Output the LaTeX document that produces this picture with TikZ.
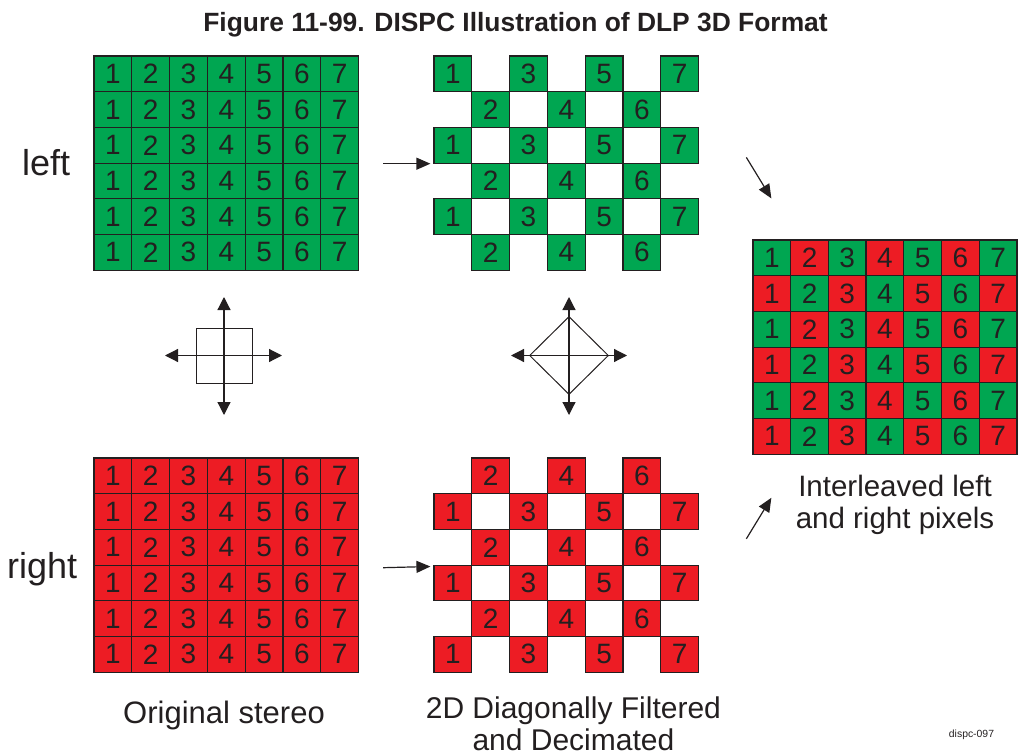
\documentclass[tikz,border=0pt]{standalone}
\usepackage{fontspec}
\setmainfont{Liberation Sans}
\usetikzlibrary{arrows.meta,calc,shapes.geometric}

\definecolor{pixgreen}{RGB}{0,166,81}
\definecolor{pixred}{RGB}{237,28,36}
\definecolor{pixline}{RGB}{35,31,32}

\tikzset{
  pix/.style={draw=pixline, line width=1.2pt, minimum width=37.8pt, minimum height=35.7pt,
    inner sep=0pt, text=pixline, font=\fontsize{28}{28}\selectfont},
  gpix/.style={pix, fill=pixgreen},
  rpix/.style={pix, fill=pixred},
  caption/.style={inner sep=0pt, text=pixline},
  bigarrow/.style={draw=pixline, line width=1.2pt, -{Triangle[length=14pt,width=12pt]}},
  dblarrow/.style={draw=pixline, line width=1.2pt,
    {Triangle[length=13pt,width=13pt]}-{Triangle[length=13pt,width=13pt]}}
}

\begin{document}
\begin{tikzpicture}[x=1pt, y=-1pt]
  \useasboundingbox (0,0) rectangle (1018,755);

  \node[caption, font=\bfseries\fontsize{26.4}{26.4}\selectfont, anchor=base] (title) at (515.5,31)
    {Figure 11-99. DISPC Illustration of DLP 3D Format};

  % pixel grids
  \foreach \r in {0,...,5}{
    \foreach \c in {1,...,7}{
      \node[gpix] (lg-\r-\c) at ({94+(\c-0.5)*37.8},{56+(\r+0.5)*35.7}) {\c};
      \node[rpix] (lr-\r-\c) at ({94+(\c-0.5)*37.8},{458+(\r+0.5)*35.7}) {\c};
      \pgfmathtruncatemacro\s{\r+\c}
      \ifodd\s
        \node[gpix] (dg-\r-\c) at ({434+(\c-0.5)*37.8},{56+(\r+0.5)*35.7}) {\c};
        \node[gpix] (ri-\r-\c) at ({753+(\c-0.5)*37.7},{240+(\r+0.5)*35.7}) {\c};
      \else
        \node[rpix] (dr-\r-\c) at ({434+(\c-0.5)*37.8},{458+(\r+0.5)*35.7}) {\c};
        \node[rpix] (ri-\r-\c) at ({753+(\c-0.5)*37.7},{240+(\r+0.5)*35.7}) {\c};
      \fi
    }
  }

  % labels
  \node[caption, font=\fontsize{36}{36}\selectfont, anchor=base west] (leftlbl) at (22,175) {left};
  \node[caption, font=\fontsize{36}{36}\selectfont, anchor=base west] (rightlbl) at (7,578) {right};
  \node[caption, font=\fontsize{31}{31}\selectfont, anchor=base] (origlbl) at (224,723) {Original stereo};
  \node[caption, font=\fontsize{30}{32}\selectfont, align=center, anchor=base] (filtlbl) at (573.4,750)
    {2D Diagonally Filtered\\and Decimated};
  \node[caption, font=\fontsize{29.5}{31.5}\selectfont, align=center, anchor=base] (interlbl) at (895,528)
    {Interleaved left\\and right pixels};
  \node[caption, font=\fontsize{10.4}{12}\selectfont, anchor=base] (figid) at (971.5,737.7) {dispc-097};

  % filter symbols
  \node[draw=pixline, line width=1pt, minimum width=56pt, minimum height=55pt, inner sep=0pt] (sq) at (224,355.5) {};
  \draw[dblarrow] ($(sq.center)+(0,-58.5)$) -- ($(sq.center)+(0,59.5)$);
  \draw[dblarrow] ($(sq.center)+(-59,0)$) -- ($(sq.center)+(58,0)$);
  \node[diamond, draw=pixline, line width=1pt, minimum width=79pt, minimum height=78pt, inner sep=0pt] (dm) at (569,355.5) {};
  \draw[dblarrow] ($(dm.center)+(0,-58.5)$) -- ($(dm.center)+(0,59.5)$);
  \draw[dblarrow] ($(dm.center)+(-58,0)$) -- ($(dm.center)+(58,0)$);

  % arrows between grids
  \coordinate (topS) at ($(lg-2-7.south east)+(24,0)$);
  \coordinate (topE) at ($(dg-2-1.south west)+(-3,0)$);
  \coordinate (botS) at ($(lr-2-7.south east)+(24,2)$);
  \coordinate (botE) at ($(dr-3-1.north west)+(-3,2)$);
  \coordinate (dnS) at ($(ri-0-1.north west)+(-6,-82)$);
  \coordinate (dnE) at ($(ri-0-1.north west)+(19,-41)$);
  \coordinate (upS) at ($(ri-5-1.south west)+(-6,84)$);
  \coordinate (upE) at ($(ri-5-1.south west)+(19,43)$);
  \draw[bigarrow] (topS) -- (topE);
  \draw[bigarrow] (botS) -- (botE);
  \draw[bigarrow] (dnS) -- (dnE);
  \draw[bigarrow] (upS) -- (upE);
\end{tikzpicture}
\end{document}
